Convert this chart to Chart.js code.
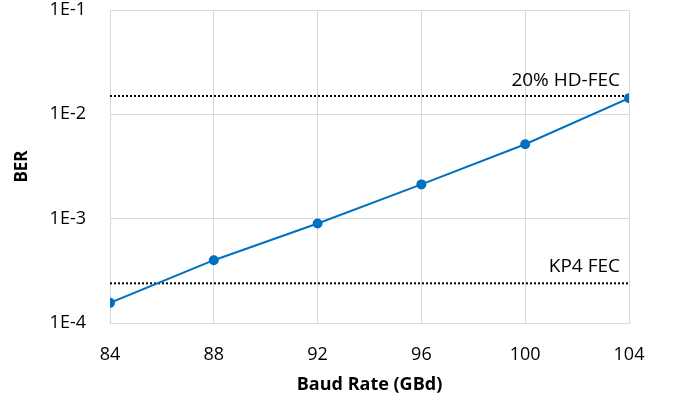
<!DOCTYPE html>
<html>
<head>
<meta charset="utf-8">
<script src="https://cdn.jsdelivr.net/npm/chart.js@4"></script>
<style>
  body { margin: 0; background: #fff; }
  #wrap { width: 676px; height: 400px; }
</style>
</head>
<body>
<div id="wrap"><canvas id="ber-chart"></canvas></div>
<script>
const baudRates = [84, 88, 92, 96, 100, 104];
const berValues = [1.56e-4, 4.0e-4, 9.0e-4, 2.13e-3, 5.17e-3, 1.43e-2];
const hdFecLimit = 1.5e-2;
const kp4Limit = 2.4e-4;
const thresholdLabels = ['20% HD-FEC', 'KP4 FEC'];
const yTicks = [1e-4, 1e-3, 1e-2, 1e-1];

const fontFamily = "'Open Sans', 'Liberation Sans', sans-serif";
const ctx = document.getElementById('ber-chart').getContext('2d');

// text above the two dotted threshold lines
const thresholdText = {
    id: 'thresholdText',
    afterDatasetsDraw(chart) {
        const x = chart.scales.x;
        const y = chart.scales.y;
        const c = chart.ctx;
        c.save();
        c.font = '19px ' + fontFamily;
        c.fillStyle = '#000';
        c.textAlign = 'right';
        c.textBaseline = 'alphabetic';
        const right = x.getPixelForValue(baudRates[baudRates.length - 1]) - 9;
        c.fillText(thresholdLabels[0], right, y.getPixelForValue(hdFecLimit) - 10);
        c.fillText(thresholdLabels[1], right, y.getPixelForValue(kp4Limit) - 11);
        c.restore();
    }
};

new Chart(ctx, {
    type: 'line',
    data: {
        datasets: [
            {
                label: 'BER',
                data: baudRates.map((b, i) => ({ x: b, y: berValues[i] })),
                borderColor: '#0070C0',
                backgroundColor: '#0070C0',
                borderWidth: 2,
                pointRadius: 4,
                pointHoverRadius: 4,
                order: 0
            },
            {
                label: thresholdLabels[0],
                data: [{ x: baudRates[0], y: hdFecLimit }, { x: baudRates[baudRates.length - 1], y: hdFecLimit }],
                borderColor: '#000',
                borderWidth: 2,
                borderDash: [2, 2],
                pointRadius: 0,
                order: 1
            },
            {
                label: thresholdLabels[1],
                data: [{ x: baudRates[0], y: kp4Limit }, { x: baudRates[baudRates.length - 1], y: kp4Limit }],
                borderColor: '#000',
                borderWidth: 2,
                borderDash: [2, 2],
                pointRadius: 0,
                order: 1
            }
        ]
    },
    options: {
        responsive: true,
        maintainAspectRatio: false,
        animation: false,
        layout: {
            padding: { left: 0, right: 47, top: 10, bottom: 0 }
        },
        scales: {
            x: {
                type: 'linear',
                min: 84,
                max: 104,
                ticks: {
                    stepSize: 4,
                    padding: 21,
                    color: '#000',
                    font: { family: fontFamily, size: 18 }
                },
                grid: { color: '#d9d9d9', drawTicks: false, lineWidth: 1 },
                border: { color: '#d9d9d9' },
                title: {
                    display: true,
                    text: 'Baud Rate (GBd)',
                    color: '#000',
                    font: { family: fontFamily, size: 18, weight: 'bold' },
                    padding: { top: 0, bottom: 4 }
                },
                afterFit(scale) {
                    scale.height = 77;
                    scale.paddingLeft = 0;
                    scale.paddingRight = 0;
                }
            },
            y: {
                type: 'logarithmic',
                min: 1e-4,
                max: 1e-1,
                afterBuildTicks(scale) {
                    scale.ticks = yTicks.map(v => ({ value: v }));
                },
                ticks: {
                    padding: 24,
                    color: '#000',
                    font: { family: fontFamily, size: 18 },
                    callback: v => '1E' + Math.round(Math.log10(v))
                },
                grid: { color: '#d9d9d9', drawTicks: false, lineWidth: 1 },
                border: { color: '#d9d9d9' },
                title: {
                    display: true,
                    text: 'BER',
                    color: '#000',
                    font: { family: fontFamily, size: 17, weight: 'bold' },
                    padding: { top: 12 }
                },
                afterFit(scale) {
                    scale.width = 110;
                    scale.paddingTop = 0;
                    scale.paddingBottom = 0;
                }
            }
        },
        plugins: {
            legend: { display: false },
            tooltip: { enabled: false }
        }
    },
    plugins: [thresholdText]
});
</script>
</body>
</html>
